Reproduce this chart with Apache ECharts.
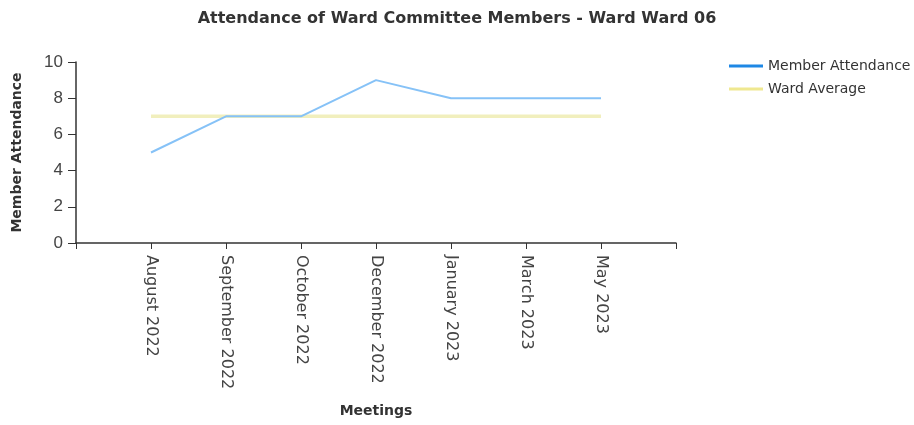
<!DOCTYPE html>
<html><head><meta charset="utf-8">
<script src="https://cdn.jsdelivr.net/npm/echarts@6/dist/echarts.min.js"></script>
<style>html,body{margin:0;padding:0;background:#fff}#c{width:914px;height:425px}</style>
</head><body><div id="c"></div>
<script>
const categories = ['', 'August 2022', 'September 2022', 'October 2022', 'December 2022', 'January 2023', 'March 2023', 'May 2023', ''];
const memberAttendance = [null, 5, 7, 7, 9, 8, 8, 8, null];
const wardAverage = [null, 7, 7, 7, 7, 7, 7, 7, null];
const yTicks = { min: 0, max: 10, interval: 2 };

const chart = echarts.init(document.getElementById('c'));
chart.setOption({
  animation: false,
  title: {
    text: 'Attendance of Ward Committee Members - Ward Ward 06',
    left: 'center', top: 6,
    textStyle: { fontFamily: 'DejaVu Sans', fontWeight: 'bold', fontSize: 16, color: '#333' }
  },
  legend: {
    orient: 'vertical', left: 724, top: 54, itemWidth: 34, itemHeight: 3, itemGap: 9,
    textStyle: { fontFamily: 'DejaVu Sans', fontSize: 14, color: '#333' },
    data: [
      { name: 'Member Attendance', icon: 'rect', itemStyle: { color: '#1e88e5' } },
      { name: 'Ward Average', icon: 'rect', itemStyle: { color: '#efe890' } }
    ]
  },
  grid: { left: 76, right: 238, top: 62, bottom: 182, containLabel: false },
  xAxis: {
    type: 'category', data: categories, boundaryGap: false,
    name: 'Meetings', nameLocation: 'middle', nameGap: 161,
    nameTextStyle: { fontFamily: 'DejaVu Sans', fontWeight: 'bold', fontSize: 14, color: '#333' },
    axisLine: { lineStyle: { color: '#333', width: 1.5 } },
    axisTick: { alignWithLabel: true, length: 6, lineStyle: { color: '#333' } },
    axisLabel: { rotate: -90, interval: 0, margin: 12, fontFamily: 'DejaVu Sans', fontSize: 16, color: '#444' },
    splitLine: { show: false }
  },
  yAxis: {
    type: 'value', min: yTicks.min, max: yTicks.max, interval: yTicks.interval,
    name: 'Member Attendance', nameLocation: 'middle', nameGap: 52, nameRotate: 90,
    nameTextStyle: { fontFamily: 'DejaVu Sans', fontWeight: 'bold', fontSize: 14, color: '#333' },
    axisLine: { show: true, lineStyle: { color: '#333', width: 1.5 } },
    axisTick: { show: true, length: 8, lineStyle: { color: '#333' } },
    axisLabel: { fontFamily: 'Liberation Sans', fontSize: 17, color: '#444', margin: 13 },
    splitLine: { show: false }
  },
  series: [
    {
      name: 'Member Attendance', type: 'line', data: memberAttendance,
      showSymbol: false, symbol: 'none', connectNulls: false,
      lineStyle: { color: '#86c2f7', width: 2 }, itemStyle: { color: '#1e88e5' }, z: 3
    },
    {
      name: 'Ward Average', type: 'line', data: wardAverage,
      showSymbol: false, symbol: 'none',
      lineStyle: { color: '#f1efbd', width: 3.5 }, itemStyle: { color: '#efe890' }, z: 2
    }
  ]
});
</script></body></html>
